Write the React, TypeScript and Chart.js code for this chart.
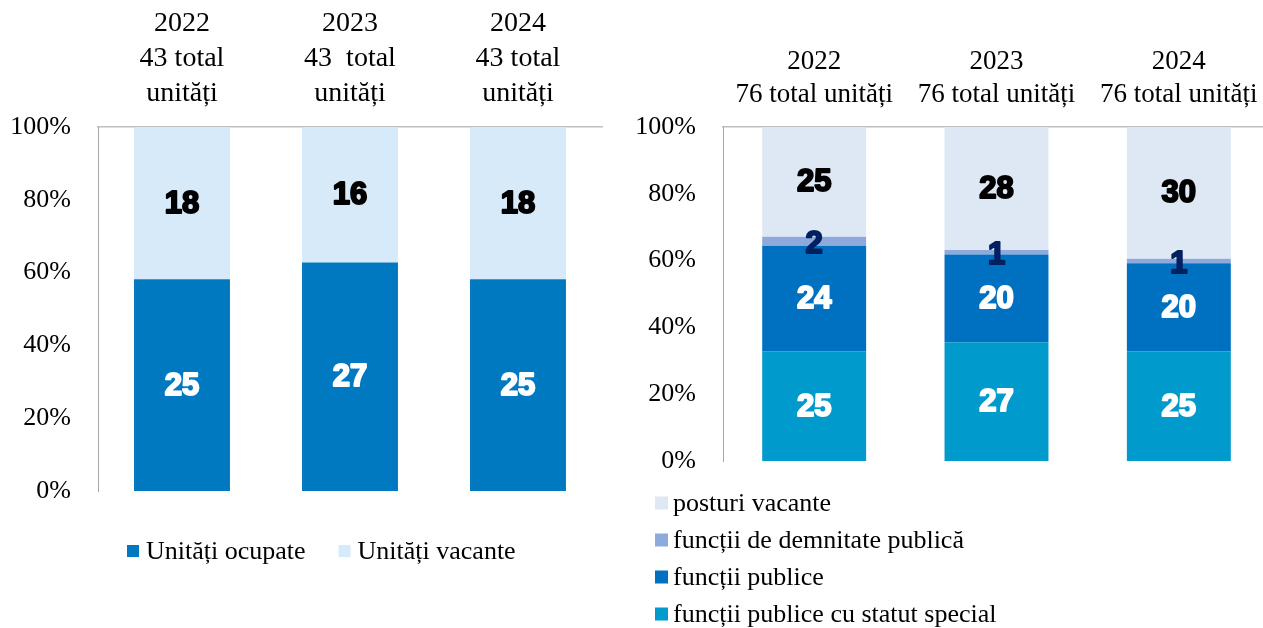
import React, { useEffect, useRef } from "react";
import { Chart, registerables } from "chart.js";
Chart.register(...registerables);

// ---------- data ----------
const leftCategories = [
  ["2022", "43 total", "unități"],
  ["2023", "43  total", "unități"],
  ["2024", "43 total", "unități"],
];
const rightCategories = [
  ["2022", "76 total unități"],
  ["2023", "76 total unități"],
  ["2024", "76 total unități"],
];
const unitatiOcupate = [25, 27, 25];
const unitatiVacante = [18, 16, 18];

const functiiStatutSpecial = [25, 27, 25];
const functiiPublice = [24, 20, 20];
const functiiDemnitate = [2, 1, 1];
const posturiVacante = [25, 28, 30];

const yTickValues = [0, 20, 40, 60, 80, 100];

// ---------- helpers ----------
const SERIF = '"Liberation Serif", "Times New Roman", serif';
const SANS = '"Liberation Sans", Arial, sans-serif';

function toPercent(series: number[][]): number[][] {
  const n = series[0].length;
  const totals = Array.from({ length: n }, (_, i) =>
    series.reduce((s, arr) => s + arr[i], 0)
  );
  return series.map((arr) => arr.map((v, i) => (v / totals[i]) * 100));
}

const valueLabelPlugin = {
  id: "valueLabels",
  afterDatasetsDraw(chart: any) {
    const { ctx } = chart;
    ctx.save();
    ctx.textAlign = "center";
    ctx.textBaseline = "middle";
    ctx.font = `bold 31px ${SANS}`;
    chart.data.datasets.forEach((ds: any, di: number) => {
      const meta = chart.getDatasetMeta(di);
      meta.data.forEach((bar: any, i: number) => {
        const { x, y, base } = bar.getProps(["x", "y", "base"], true);
        const cy = (y + base) / 2 + (ds.labelShift || 0) + 1;
        const txt = String(ds.rawCounts[i]);
        ctx.fillStyle = ds.labelColor;
        ctx.strokeStyle = ds.labelColor;
        ctx.lineWidth = 2;
        ctx.lineJoin = "round";
        ctx.strokeText(txt, x, cy);
        ctx.fillText(txt, x, cy);
      });
    });
    ctx.restore();
  },
};

const customLegendPlugin = {
  id: "customLegend",
  afterDraw(chart: any, _args: any, opts: any) {
    if (!opts || !opts.enabled) return;
    const { ctx, chartArea } = chart;
    let items = chart.data.datasets.map((d: any) => ({
      label: d.label,
      color: d.backgroundColor,
    }));
    if (opts.reverse) items = items.slice().reverse();
    ctx.save();
    ctx.font = `26px ${SERIF}`;
    ctx.textBaseline = "middle";
    ctx.textAlign = "left";
    let x = opts.x;
    let y = chartArea.bottom + opts.dy;
    items.forEach((it: any) => {
      ctx.fillStyle = it.color;
      ctx.fillRect(x, y - opts.box / 2, opts.box, opts.box);
      ctx.fillStyle = "#000";
      ctx.fillText(it.label, x + opts.box + opts.gap, y + 1);
      const w = ctx.measureText(it.label).width;
      if (opts.layout === "row") x += opts.box + opts.gap + w + opts.itemGap;
      else y += opts.rowGap;
    });
    ctx.restore();
  },
};

function baseOptions(p: {
  yWidth: number;
  xHeight: number;
  padRight: number;
  padBottom: number;
  barPct: number;
  xFontSize: number;
  xLineHeight: number;
  xPadding: number;
  yPadding: number;
  legend: any;
}) {
  return {
    responsive: false,
    animation: false as const,
    layout: { padding: { top: 0, left: 0, right: p.padRight, bottom: p.padBottom } },
    datasets: { bar: { barPercentage: p.barPct, categoryPercentage: 1 } },
    plugins: {
      legend: { display: false },
      tooltip: { enabled: false },
      customLegend: p.legend,
    },
    scales: {
      x: {
        position: "top" as const,
        stacked: true,
        grid: { display: false, drawTicks: false },
        border: { display: true, color: "#BFBFBF", width: 1.5 },
        ticks: {
          color: "#000",
          font: { family: SERIF, size: p.xFontSize, lineHeight: p.xLineHeight },
          padding: p.xPadding,
          maxRotation: 0,
          autoSkip: false,
        },
        afterFit: (scale: any) => {
          scale.height = p.xHeight;
        },
      },
      y: {
        stacked: true,
        min: 0,
        max: 100,
        grid: { display: false, drawTicks: false },
        border: { display: true, color: "#A6A6A6", width: 1 },
        afterBuildTicks: (scale: any) => {
          scale.ticks = yTickValues.map((v) => ({ value: v }));
        },
        ticks: {
          color: "#000",
          font: { family: SERIF, size: 26 },
          padding: p.yPadding,
          callback: (v: any) => `${v}%`,
        },
        afterFit: (scale: any) => {
          scale.width = p.yWidth;
        },
      },
    },
  };
}

function LeftChart() {
  const ref = useRef<HTMLCanvasElement>(null);
  useEffect(() => {
    const [occ, vac] = toPercent([unitatiOcupate, unitatiVacante]);
    const chart = new Chart(ref.current as HTMLCanvasElement, {
      type: "bar",
      data: {
        labels: leftCategories as any,
        datasets: [
          {
            label: "Unități ocupate",
            data: occ,
            backgroundColor: "#0079C1",
            rawCounts: unitatiOcupate,
            labelColor: "#FFFFFF",
          } as any,
          {
            label: "Unități vacante",
            data: vac,
            backgroundColor: "#D6EAFA",
            rawCounts: unitatiVacante,
            labelColor: "#000000",
          } as any,
        ],
      },
      options: baseOptions({
        yWidth: 98,
        xHeight: 127,
        padRight: 13,
        padBottom: 137,
        barPct: 0.571,
        xFontSize: 28,
        xLineHeight: 1.25,
        xPadding: 16,
        yPadding: 27,
        legend: { enabled: true, layout: "row", x: 127, dy: 60, box: 12, gap: 7, itemGap: 33 },
      }) as any,
      plugins: [valueLabelPlugin, customLegendPlugin],
    });
    return () => chart.destroy();
  }, []);
  return <canvas ref={ref} width={615} height={628} style={{ position: "absolute", left: 0, top: 0 }} />;
}

function RightChart() {
  const ref = useRef<HTMLCanvasElement>(null);
  useEffect(() => {
    const [spec, pub, dem, vac] = toPercent([
      functiiStatutSpecial,
      functiiPublice,
      functiiDemnitate,
      posturiVacante,
    ]);
    const chart = new Chart(ref.current as HTMLCanvasElement, {
      type: "bar",
      data: {
        labels: rightCategories as any,
        datasets: [
          {
            label: "funcții publice cu statut special",
            data: spec,
            backgroundColor: "#009ACD",
            rawCounts: functiiStatutSpecial,
            labelColor: "#FFFFFF",
          } as any,
          {
            label: "funcții publice",
            data: pub,
            backgroundColor: "#0070C0",
            rawCounts: functiiPublice,
            labelColor: "#FFFFFF",
          } as any,
          {
            label: "funcții de demnitate publică",
            data: dem,
            backgroundColor: "#8EA9DB",
            rawCounts: functiiDemnitate,
            labelColor: "#002060",
            labelShift: 2,
          } as any,
          {
            label: "posturi vacante",
            data: vac,
            backgroundColor: "#DEE8F4",
            rawCounts: posturiVacante,
            labelColor: "#000000",
          } as any,
        ],
      },
      options: baseOptions({
        yWidth: 108,
        xHeight: 127,
        padRight: 5,
        padBottom: 167,
        barPct: 0.57,
        xFontSize: 27,
        xLineHeight: 1.22,
        xPadding: 16,
        yPadding: 27,
        legend: { enabled: true, layout: "column", reverse: true, x: 40, dy: 42, box: 13, gap: 5, rowGap: 37 },
      }) as any,
      plugins: [valueLabelPlugin, customLegendPlugin],
    });
    return () => chart.destroy();
  }, []);
  return <canvas ref={ref} width={660} height={628} style={{ position: "absolute", left: 615, top: 0 }} />;
}

export default function App() {
  return (
    <div
      style={{
        position: "fixed",
        left: 0,
        top: 0,
        width: 1263,
        height: 628,
        overflow: "hidden",
        background: "#FFFFFF",
      }}
    >
      <LeftChart />
      <RightChart />
    </div>
  );
}
